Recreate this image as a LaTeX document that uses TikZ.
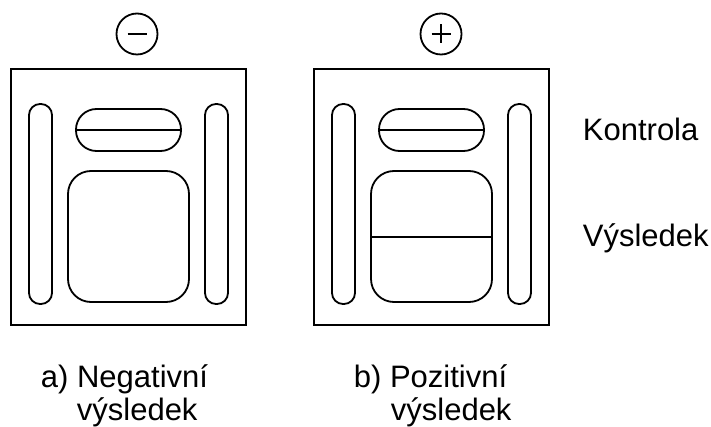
\documentclass[tikz,border=0pt]{standalone}
\usepackage{fontspec}
\setmainfont{Liberation Sans}
\begin{document}
\begin{tikzpicture}[x=1pt,y=-1pt,line width=1.8pt,
  lbl/.style={anchor=base west,inner sep=0pt,font=\fontsize{31}{37}\selectfont},
  frame/.style={draw,line width=2pt},
  pill/.style={draw,rounded corners=11pt},
  capsule/.style={draw,rounded corners=20.5pt},
  well/.style={draw,rounded corners=23pt}]
\useasboundingbox (0,0) rectangle (711,427);

% one test cassette: frame, two side strips, control and result windows
\newcommand{\cassette}[1]{%
  \begin{scope}[xshift=#1]
    \draw[frame] (11,69) rectangle (246,325);
    \draw[pill] (29,104) rectangle (52,304);
    \draw[pill] (205,104) rectangle (228,304);
    \draw[capsule] (76,109) rectangle (181,151);
    \draw (76,130) -- (181,130);
    \draw[well] (68,171) rectangle (189,302);
  \end{scope}}

\cassette{0pt}
\cassette{303pt}

% result line in the positive cassette
\draw (371,237) -- (492,237);

% sign symbols
\draw (137,34) circle[radius=20.5pt];
\draw (127.5,34) -- (146.5,34);
\draw (441,34) circle[radius=20.5pt];
\draw (431.5,34) -- (450.5,34);
\draw (441,24.5) -- (441,43.5);

% labels
\node[lbl] (kontrola) at (582,141) {Kontrola};
\node[lbl] (vysledek) at (582,247) {Výsledek};
\node[lbl] (neg1) at (40,387) {a) Negativní};
\node[lbl] (neg2) at (76,420) {výsledek};
\node[lbl] (pos1) at (353,387) {b) Pozitivní};
\node[lbl] (pos2) at (390,420) {výsledek};
\end{tikzpicture}
\end{document}
